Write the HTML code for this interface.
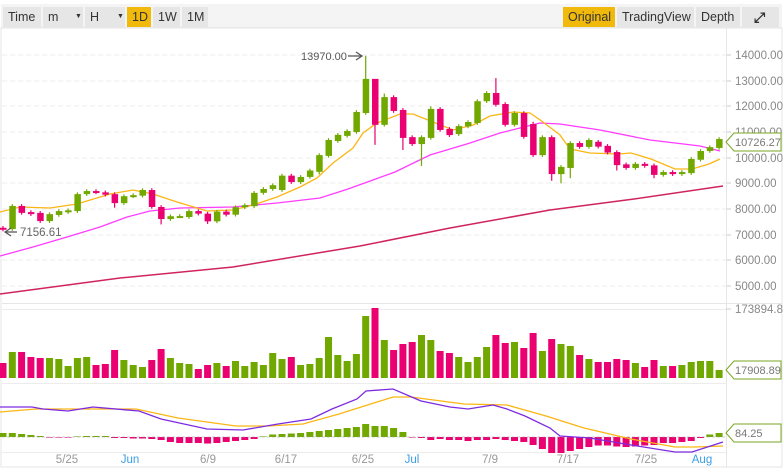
<!DOCTYPE html>
<html><head><meta charset="utf-8"><style>
*{margin:0;padding:0;box-sizing:border-box}
body{width:783px;height:469px;background:#fff;font-family:"Liberation Sans",sans-serif;overflow:hidden;position:relative}
.bar{position:absolute;top:4px;left:1px;right:1px;height:24px;background:#f4f4f4;border-bottom:1px solid #e8e8e8}
.b{position:absolute;top:3px;height:20px;line-height:20px;font-size:12.5px;color:#333;background:#e6e6e6;padding-left:5px}
.y{background:#f0b90b}
svg{position:absolute;left:0;top:0}
</style></head><body>
<svg id="s" width="783" height="469" style="top:0"></svg>
<div class="bar">
<div class="b" style="left:2px;width:38px">Time</div>
<div class="b" style="left:42px;width:40px">m<span style="position:absolute;left:32px;font-size:7px">▼</span></div>
<div class="b" style="left:84px;width:40px">H<span style="position:absolute;left:32px;font-size:7px">▼</span></div>
<div class="b y" style="left:126px;width:24px">1D</div>
<div class="b" style="left:152px;width:27px">1W</div>
<div class="b" style="left:181px;width:26px">1M</div>
<div class="b y" style="left:562px;width:52px">Original</div>
<div class="b" style="left:616px;width:77px">TradingView</div>
<div class="b" style="left:695px;width:44px">Depth</div>
<div class="b" style="left:741px;width:37px;font-size:14px;font-weight:bold;padding-left:12px">⤢</div>
</div>
<script>
(function(){
var G='#70a800',R='#ea0070';
var C=[[7270,7200],[7220,8120],[8120,7850],[7880,7800],[7850,7530],[7530,7800],[7770,7920],[7880,7950],[7920,8580],[8580,8700],[8700,8650],[8650,8560],[8580,8230],[8230,8500],[8500,8540],[8520,8740],[8740,8080],[8080,7610],[7610,7720],[7720,7725],[7690,7920],[7920,7820],[7820,7520],[7520,7900],[7900,7780],[7780,8070],[8070,8150],[8110,8630],[8630,8780],[8780,8930],[8740,9300],[9300,9050],[9050,9250],[9250,9500],[9450,10100],[10070,10690],[10650,10890],[10850,11040],[11000,11780],[11740,13070],[13070,11280],[11280,12360],[12360,11820],[11860,10770],[10800,10530],[10530,10800],[10770,11900],[11900,11080],[11120,10880],[10920,11230],[11220,11390],[11350,12200],[12200,12520],[12520,12060],[12090,11280],[11280,11740],[11740,10810],[11310,10100],[10100,10800],[10800,9360],[9360,9640],[9600,10570],[10570,10420],[10420,10690],[10620,10430],[10460,10200],[10220,9710],[9740,9600],[9600,9760],[9760,9680],[9700,9330],[9330,9440],[9440,9360],[9360,9440],[9400,9950],[9920,10260],[10260,10410],[10380,10726]];
var HI={39:13970,53:13100,40:12700,46:12000,57:11400,41:12500},LO={40:10500,45:9680,59:9100,61:9200,43:10300,17:7400,12:8050,22:7420,34:9350,66:9500,70:9200,60:9000};
var V=[15,26,26,21,20,20,19,12,20,21,13,14,28,18,13,11,18,29,20,15,14,9,13,15,12,17,12,16,13,25,19,21,13,14,20,41,23,17,24,62,70,38,28,34,36,43,38,27,25,21,16,21,31,43,35,36,30,45,27,39,34,32,23,19,16,16,19,18,15,11,18,12,12,13,16,17,17,8];
var M=[4,4,3,2,1,-.6,-.6,-.6,.6,1,1,1,-1,-1,-1.5,-1.5,-2,-3,-5,-6,-6,-6,-6.5,-6,-5,-4,-3,-2,.6,2.5,3,3.5,4,5,6,7,8,9,10,13,11,11,9,5,-.6,-1,-3,-2,-3,-3,-4,-3,-3,-2,-3,-4,-5,-8,-12,-16,-16,-14,-12,-10,-8.5,-8.5,-9.5,-10,-9.5,-8.5,-8,-6,-6,-5,-4,-1,2.5,4];
function py(p){return 55+(14000-p)*0.02567}
var h='';
var gy=[55,81,106,132,158,183,209,235,260,286];
h+='<rect x="1" y="28" width="781" height="439" fill="none" stroke="#e6e6e6"/>';
gy.forEach(function(y,i){h+='<line x1="2" x2="726" y1="'+y+'" y2="'+y+'" stroke="#ececec" stroke-dasharray="5,3"/><line x1="726" x2="731" y1="'+y+'" y2="'+y+'" stroke="#ccc"/><text x="735" y="'+(y+4)+'" font-size="11.5" fill="#888">'+(14000-i*1000)+'.00</text>';});
h+='<line x1="726.5" x2="726.5" y1="28" y2="467" stroke="#e6e6e6"/>';
h+='<line x1="2" x2="782" y1="303.5" y2="303.5" stroke="#e6e6e6"/><line x1="2" x2="726" y1="309.5" y2="309.5" stroke="#ececec"/><line x1="2" x2="726" y1="383.5" y2="383.5" stroke="#ececec"/><line x1="2" x2="726" y1="452.5" y2="452.5" stroke="#ececec"/>';
function pl(pts,c,w){h+='<polyline fill="none" stroke="'+c+'" stroke-width="'+(w||1.3)+'" points="'+pts+'"/>'}
pl('0,294 120,278 233,267 360,246 450,228 550,210 634,199 723,186','#d0245e',1.5);
pl('0,256 33,247 67,237 100,227 127,217 150,211 180,208 233,207 277,203 320,198 348,189 373,180 395,172 430,155 470,143 500,133 540,123 560,124 600,130 650,140 700,146 720,151','#ff3cff',1.3);
pl('0,212 20,207 50,208 77,204 110,194 133,190 153,194 177,202 207,211 233,210 253,205 277,197 300,187 317,178 333,163 353,148 363,133 377,123 400,114 413,114 433,122 453,130 473,125 490,116 513,112 530,113 543,122 560,135 570,149 590,153 618,154 631,153 651,159 675,169 692,169 709,164 720,159','#fbb614',1.3);
for(var i=0;i<C.length;i++){var x=3+9.3*i,o=C[i][0],c=C[i][1],col=c>=o?G:R;
var tp=Math.max(o,c),bt=Math.min(o,c);var hi=HI[i]||tp+70,lo=LO[i]||bt-70;
h+='<line x1="'+x+'" x2="'+x+'" y1="'+py(hi)+'" y2="'+py(lo)+'" stroke="'+col+'" stroke-width="1.2"/>';
var y1=py(tp),y2=py(bt);if(y2-y1<2){y2=y1+2}
h+='<rect x="'+(x-3)+'" y="'+y1+'" width="6.5" height="'+(y2-y1)+'" fill="'+col+'"/>';
h+='<rect x="'+(x-3.5)+'" y="'+(378-V[i])+'" width="7" height="'+V[i]+'" fill="'+col+'"/>';
var m=M[i];h+='<rect x="'+(x-3.5)+'" y="'+(m>0?437-m:437)+'" width="7" height="'+Math.abs(m)+'" fill="'+(m>0?G:R)+'"/>';}
h+='<line x1="2" x2="726" y1="437" y2="437" stroke="#999" stroke-dasharray="3,2" stroke-width=".6"/>';
pl('0,412 36,409 136,409 178,418 236,426 268,426 303,424 339,414 393,397 411,397 464,404 507,405 546,416 584,428 631,439 675,447 695,447 723,446','#fbb614',1.3);
pl('0,407 32,407 43,409 68,411 93,407 139,411 161,419 207,429 243,430 278,424 311,419 332,409 357,399 366,391 393,389 421,401 450,407 468,409 493,405 507,409 525,416 550,428 560,436 590,438 631,445 675,452 692,452 723,442','#7d2be0',1.3);
h+='<text x="301" y="60" font-size="11" fill="#555">13970.00</text><path d="M348 56H361M356 52L362 56L356 60" stroke="#555" fill="none" stroke-width="1.2"/>';
h+='<path d="M17 232H6M11 228L5 232L11 236" stroke="#555" fill="none" stroke-width="1.2"/><text x="20" y="236" font-size="11.5" fill="#666">7156.61</text>';
function tag(y,t){h+='<path d="M726 '+y+'L734 '+(y-9)+'H781V'+(y+9)+'H734Z" fill="#fff" stroke="#7aa520"/><text x="735" y="'+(y+4)+'" font-size="11" fill="#777">'+t+'</text>'}
tag(142,'10726.27');tag(370,'17908.89');tag(433,'84.25');
h+='<line x1="726" x2="731" y1="309" y2="309" stroke="#ccc"/><text x="735" y="313" font-size="11.5" fill="#888">173894.82</text>';
[['5/25',67,'#999'],['Jun',130,'#3a9ee4'],['6/9',208,'#999'],['6/17',286,'#999'],['6/25',363,'#999'],['Jul',412,'#3a9ee4'],['7/9',490,'#999'],['7/17',568,'#999'],['7/25',646,'#999'],['Aug',702,'#3a9ee4']].forEach(function(a){h+='<text x="'+a[1]+'" y="463" font-size="11.5" fill="'+a[2]+'" text-anchor="middle">'+a[0]+'</text>'});
document.getElementById('s').innerHTML=h;
})();
</script>
</body></html>
